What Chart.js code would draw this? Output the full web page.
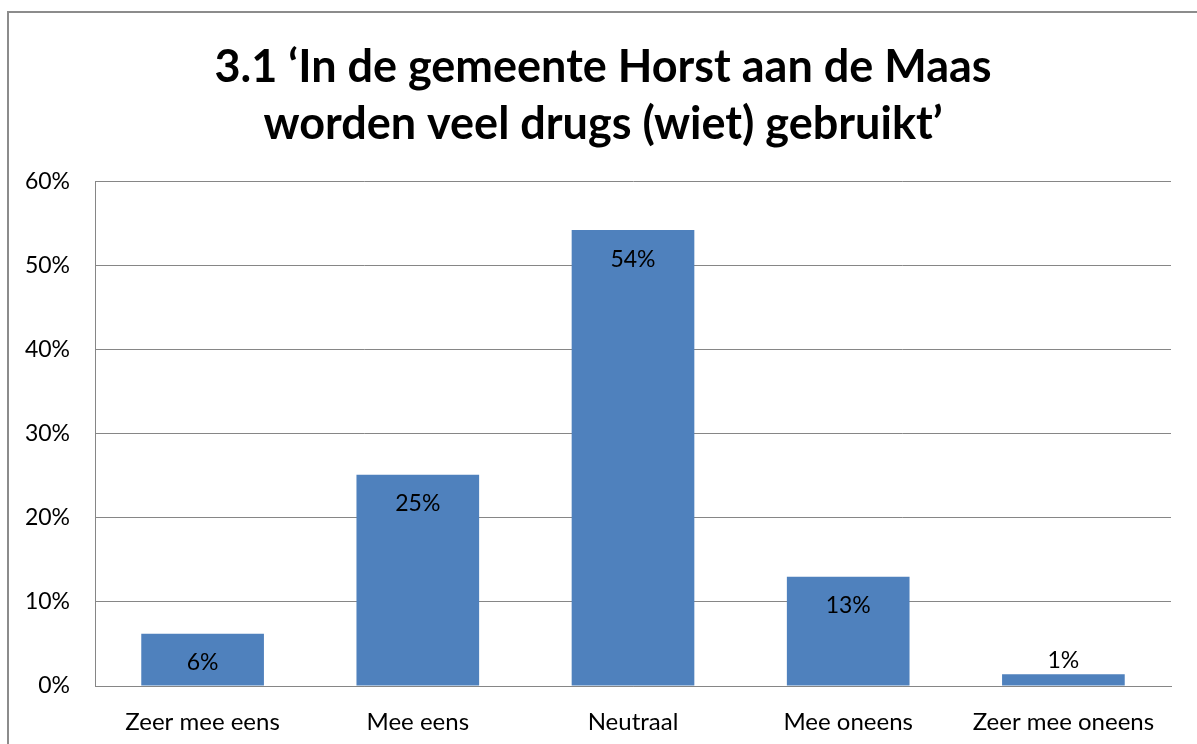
<!DOCTYPE html>
<html>
<head>
<meta charset="utf-8">
<script src="https://cdn.jsdelivr.net/npm/chart.js@4.4.1/dist/chart.umd.min.js"></script>
<style>
  html, body { margin: 0; padding: 0; background: #fff; }
  #wrap { width: 1197px; height: 744px; position: relative; }
</style>
</head>
<body>
<div id="wrap"><canvas id="grafiek" width="1197" height="744"></canvas></div>
<script>
const titel = ['3.1 \u2018In de gemeente Horst aan de Maas', 'worden veel drugs (wiet) gebruikt\u2019'];
const categorieen = ['Zeer mee eens', 'Mee eens', 'Neutraal', 'Mee oneens', 'Zeer mee oneens'];
const percentages = [6.2, 25.1, 54.2, 13.0, 1.4];
const yTicks = [0, 10, 20, 30, 40, 50, 60];

const grijs = '#868686';
const lettertype = 'Lato, Carlito, Calibri, sans-serif';

// rand om de hele grafiek
const randPlugin = {
  id: 'rand',
  beforeDraw(chart) {
    const c = chart.ctx;
    c.save();
    c.fillStyle = '#fff';
    c.fillRect(0, 0, chart.width, chart.height);
    c.strokeStyle = '#8c8c8c';
    c.lineWidth = 2;
    c.beginPath();
    c.moveTo(8, chart.height + 5);
    c.lineTo(8, 12);
    c.lineTo(chart.width + 5, 12);
    c.stroke();
    c.restore();
  }
};

// waardelabels in / boven de staven
const labelPlugin = {
  id: 'waardeLabels',
  afterDatasetsDraw(chart) {
    const c = chart.ctx;
    const meta = chart.getDatasetMeta(0);
    c.save();
    c.font = '23px ' + lettertype;
    c.fillStyle = '#000';
    c.textAlign = 'center';
    c.textBaseline = 'middle';
    meta.data.forEach((bar, i) => {
      const hoogte = bar.base - bar.y;
      const y = hoogte > 40 ? bar.y + 29 : bar.y - 14;
      c.fillText(Math.round(percentages[i]) + '%', bar.x, y);
    });
    c.restore();
  }
};

new Chart(document.getElementById('grafiek').getContext('2d'), {
  type: 'bar',
  data: {
    labels: categorieen,
    datasets: [{
      data: percentages,
      backgroundColor: '#4F81BD',
      borderWidth: 0,
      barPercentage: 0.57,
      categoryPercentage: 1
    }]
  },
  options: {
    responsive: false,
    animation: false,
    layout: { padding: { left: 9, right: 0, top: 0, bottom: 0 } },
    plugins: {
      legend: { display: false },
      tooltip: { enabled: false },
      title: {
        display: true,
        text: titel,
        color: '#000',
        font: { family: lettertype, size: 45, weight: 'bold', lineHeight: 1.27 },
        padding: { top: 39, bottom: 28 }
      }
    },
    scales: {
      x: {
        grid: { display: false },
        border: { display: true, color: grijs, width: 1 },
        ticks: { color: '#000', font: { family: lettertype, size: 24 }, padding: 14, maxRotation: 0 },
        afterFit(s) { s.height = 58; }
      },
      y: {
        min: 0,
        max: 60,
        afterBuildTicks(s) { s.ticks = yTicks.map(v => ({ value: v })); },
        grid: { color: grijs, lineWidth: 1, drawTicks: false },
        border: { display: true, color: grijs, width: 1 },
        ticks: {
          color: '#000',
          font: { family: lettertype, size: 23 },
          padding: 25,
          callback: v => v + '%'
        },
        afterFit(s) { s.width = 86; }
      },
      // lege as rechts, alleen voor ruimte
      rechts: {
        position: 'right',
        display: true,
        grid: { display: false },
        border: { display: false },
        ticks: { display: false },
        afterFit(s) { s.width = 26; }
      }
    }
  },
  plugins: [randPlugin, labelPlugin]
});
</script>
</body>
</html>
